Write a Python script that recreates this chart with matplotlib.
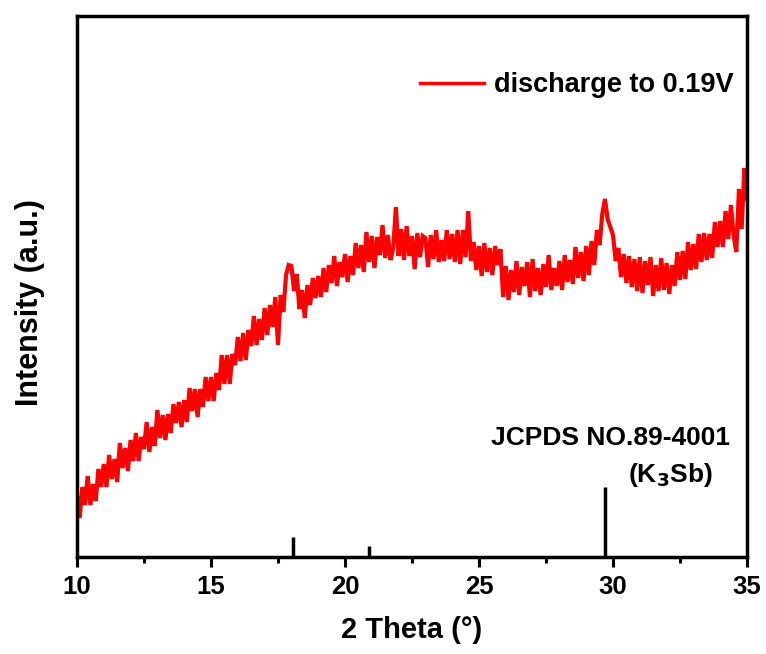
import matplotlib
matplotlib.use("Agg")
import numpy as np
import matplotlib.pyplot as plt

plt.rcParams['font.family'] = ['Liberation Sans', 'DejaVu Sans']
plt.rcParams['font.weight'] = 'bold'

# 2 theta grid, 0.1 deg step from 10.0 to 35.0
two_theta = np.round(np.arange(100, 351) * 0.1, 1)

# intensity (a.u.), one row per degree
intensity = [
    62, 39, 70, 52, 81, 52, 73, 56, 88, 70,            # 10
    93, 70, 102, 78, 98, 75, 114, 89, 109, 86,         # 11
    117, 96, 124, 96, 120, 108, 135, 105, 130, 111,    # 12
    147, 119, 142, 117, 143, 124, 153, 134, 155, 130,  # 13
    157, 135, 169, 146, 168, 140, 168, 150, 180, 156,  # 14
    180, 156, 184, 167, 202, 173, 202, 173, 203, 192,  # 15
    220, 196, 224, 197, 227, 211, 241, 212, 238, 217,  # 16
    249, 222, 252, 230, 260, 212, 262, 245, 282, 292,  # 17
    291, 266, 283, 248, 267, 239, 272, 252, 279, 259,  # 18
    281, 260, 289, 265, 292, 274, 301, 271, 295, 280,  # 19
    303, 275, 301, 282, 314, 289, 312, 285, 325, 295,  # 20
    321, 289, 320, 302, 332, 299, 322, 297, 309, 350,  # 21
    301, 328, 297, 331, 301, 321, 288, 324, 300, 321,  # 22
    319, 290, 322, 298, 327, 295, 317, 296, 327, 298,  # 23
    323, 295, 327, 293, 327, 300, 346, 296, 315, 287,  # 24
    311, 281, 314, 285, 309, 282, 311, 292, 308, 260,  # 25
    291, 257, 287, 265, 296, 262, 290, 271, 295, 260,  # 26
    298, 266, 289, 262, 293, 270, 302, 267, 289, 271,  # 27
    296, 267, 302, 275, 297, 273, 310, 279, 305, 276,  # 28
    311, 282, 316, 292, 327, 312, 343, 358, 338, 330,  # 29
    322, 296, 309, 280, 303, 274, 301, 270, 298, 266,  # 30
    300, 264, 296, 272, 300, 261, 292, 266, 299, 267,  # 31
    294, 263, 292, 271, 305, 277, 306, 278, 315, 287,  # 32
    313, 288, 323, 295, 324, 297, 323, 299, 335, 310,  # 33
    336, 310, 346, 318, 352, 322, 305, 368, 328, 389,  # 34
    358,                                               # 35
]

# reference pattern JCPDS 89-4001 (K3Sb)
ref_pos = [18.06, 20.9, 29.72]
ref_int = [20, 11, 70]

fig = plt.figure(figsize=(7.66, 6.54), dpi=100)
ax = fig.add_axes([0.1005, 0.1483, 0.8747, 0.8272])

ax.plot(two_theta, intensity, color='#ff0000', lw=3.0, solid_joinstyle='miter',
        label='discharge to 0.19V')
ax.vlines(ref_pos, 0, ref_int, color='black', lw=2.5)

ax.set_xlim(10, 35)
ax.set_ylim(0, 541)
ax.set_xticks([10, 15, 20, 25, 30, 35])
ax.set_xticks(np.arange(12.5, 35, 5), minor=True)
ax.set_yticks([])
ax.tick_params(axis='x', which='major', direction='out', length=7, width=2.2,
               labelsize=18.5, pad=6)
ax.tick_params(axis='x', which='minor', direction='out', length=4, width=2.2)
for lab in ax.get_xticklabels():
    lab.set_fontweight('bold')
for sp in ax.spines.values():
    sp.set_linewidth(2.5)

ax.set_xlabel('2 Theta (°)', fontsize=21, fontweight='bold', labelpad=12)
ax.set_ylabel('Intensity (a.u.)', fontsize=22, fontweight='bold')
ax.yaxis.set_label_coords(-0.047, 0.47)

ax.text(0.975, 0.22, 'JCPDS NO.89-4001', transform=ax.transAxes, ha='right',
        va='center', fontsize=19, fontweight='bold')
ax.text(0.949, 0.152, r'(K$_{\mathbf{3}}$Sb)', transform=ax.transAxes, ha='right',
        va='center', fontsize=19, fontweight='bold')

leg = ax.legend(loc='center right', bbox_to_anchor=(0.98, 0.872), frameon=False,
                prop={'size': 19.5, 'weight': 'bold'}, handlelength=2.35,
                handletextpad=0.37, borderaxespad=0, borderpad=0)
leg.get_lines()[0].set_linewidth(2.5)

fig.savefig('out.png', dpi=100)
